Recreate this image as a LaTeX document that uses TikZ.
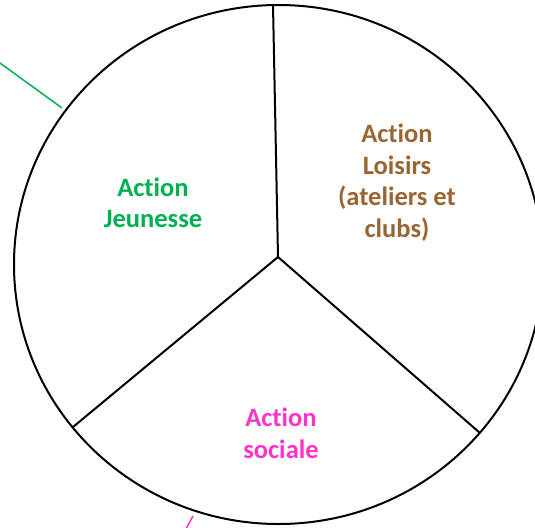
\documentclass[tikz,border=0pt]{standalone}
\usepackage{fontspec}
\setmainfont{Carlito}[Ligatures={NoCommon}]
\definecolor{jgreen}{RGB}{0,176,80}
\definecolor{lbrown}{RGB}{153,102,51}
\definecolor{spink}{RGB}{255,51,204}
\tikzset{
  lbl/.style={font=\bfseries\fontsize{26.5}{31.5}\selectfont, align=center, inner sep=0pt, anchor=base},
  wall/.style={line width=2pt, black},
  lead/.style={line width=1.5pt}
}
\begin{document}
\begin{tikzpicture}[x=1pt,y=-1pt]
\useasboundingbox (0,0) rectangle (535,527);
\clip (0,0) rectangle (535,527);
% geometry
\coordinate (C) at (278.5,264.5);
\coordinate (J) at (278,257);
\coordinate (T) at (273,5);
\coordinate (L) at (73,427);
\coordinate (R) at (480,433);
\draw[wall] (C) ellipse [x radius=264.5, y radius=259.5];
\draw[wall] (J) -- (T);
\draw[wall] (J) -- (L);
\draw[wall] (J) -- (R);
% leader lines
\coordinate (g1) at (0,63);
\coordinate (g2) at (62,108);
\draw[lead, jgreen] (g1) -- (g2);
\coordinate (p1) at (186.5,528);
\coordinate (p2) at (193,516);
\draw[lead, spink] (p1) -- (p2);
% labels (anchor = baseline of last line)
\node[lbl, text=jgreen] (jeunesse) at (153,227.5) {Action\\Jeunesse};
\node[lbl, text=lbrown] (loisirs) at (397,237) {Action\\Loisirs\\(ateliers et\\clubs)};
\node[lbl, text=spink] (sociale) at (281,458) {Action\\sociale};
\end{tikzpicture}
\end{document}
